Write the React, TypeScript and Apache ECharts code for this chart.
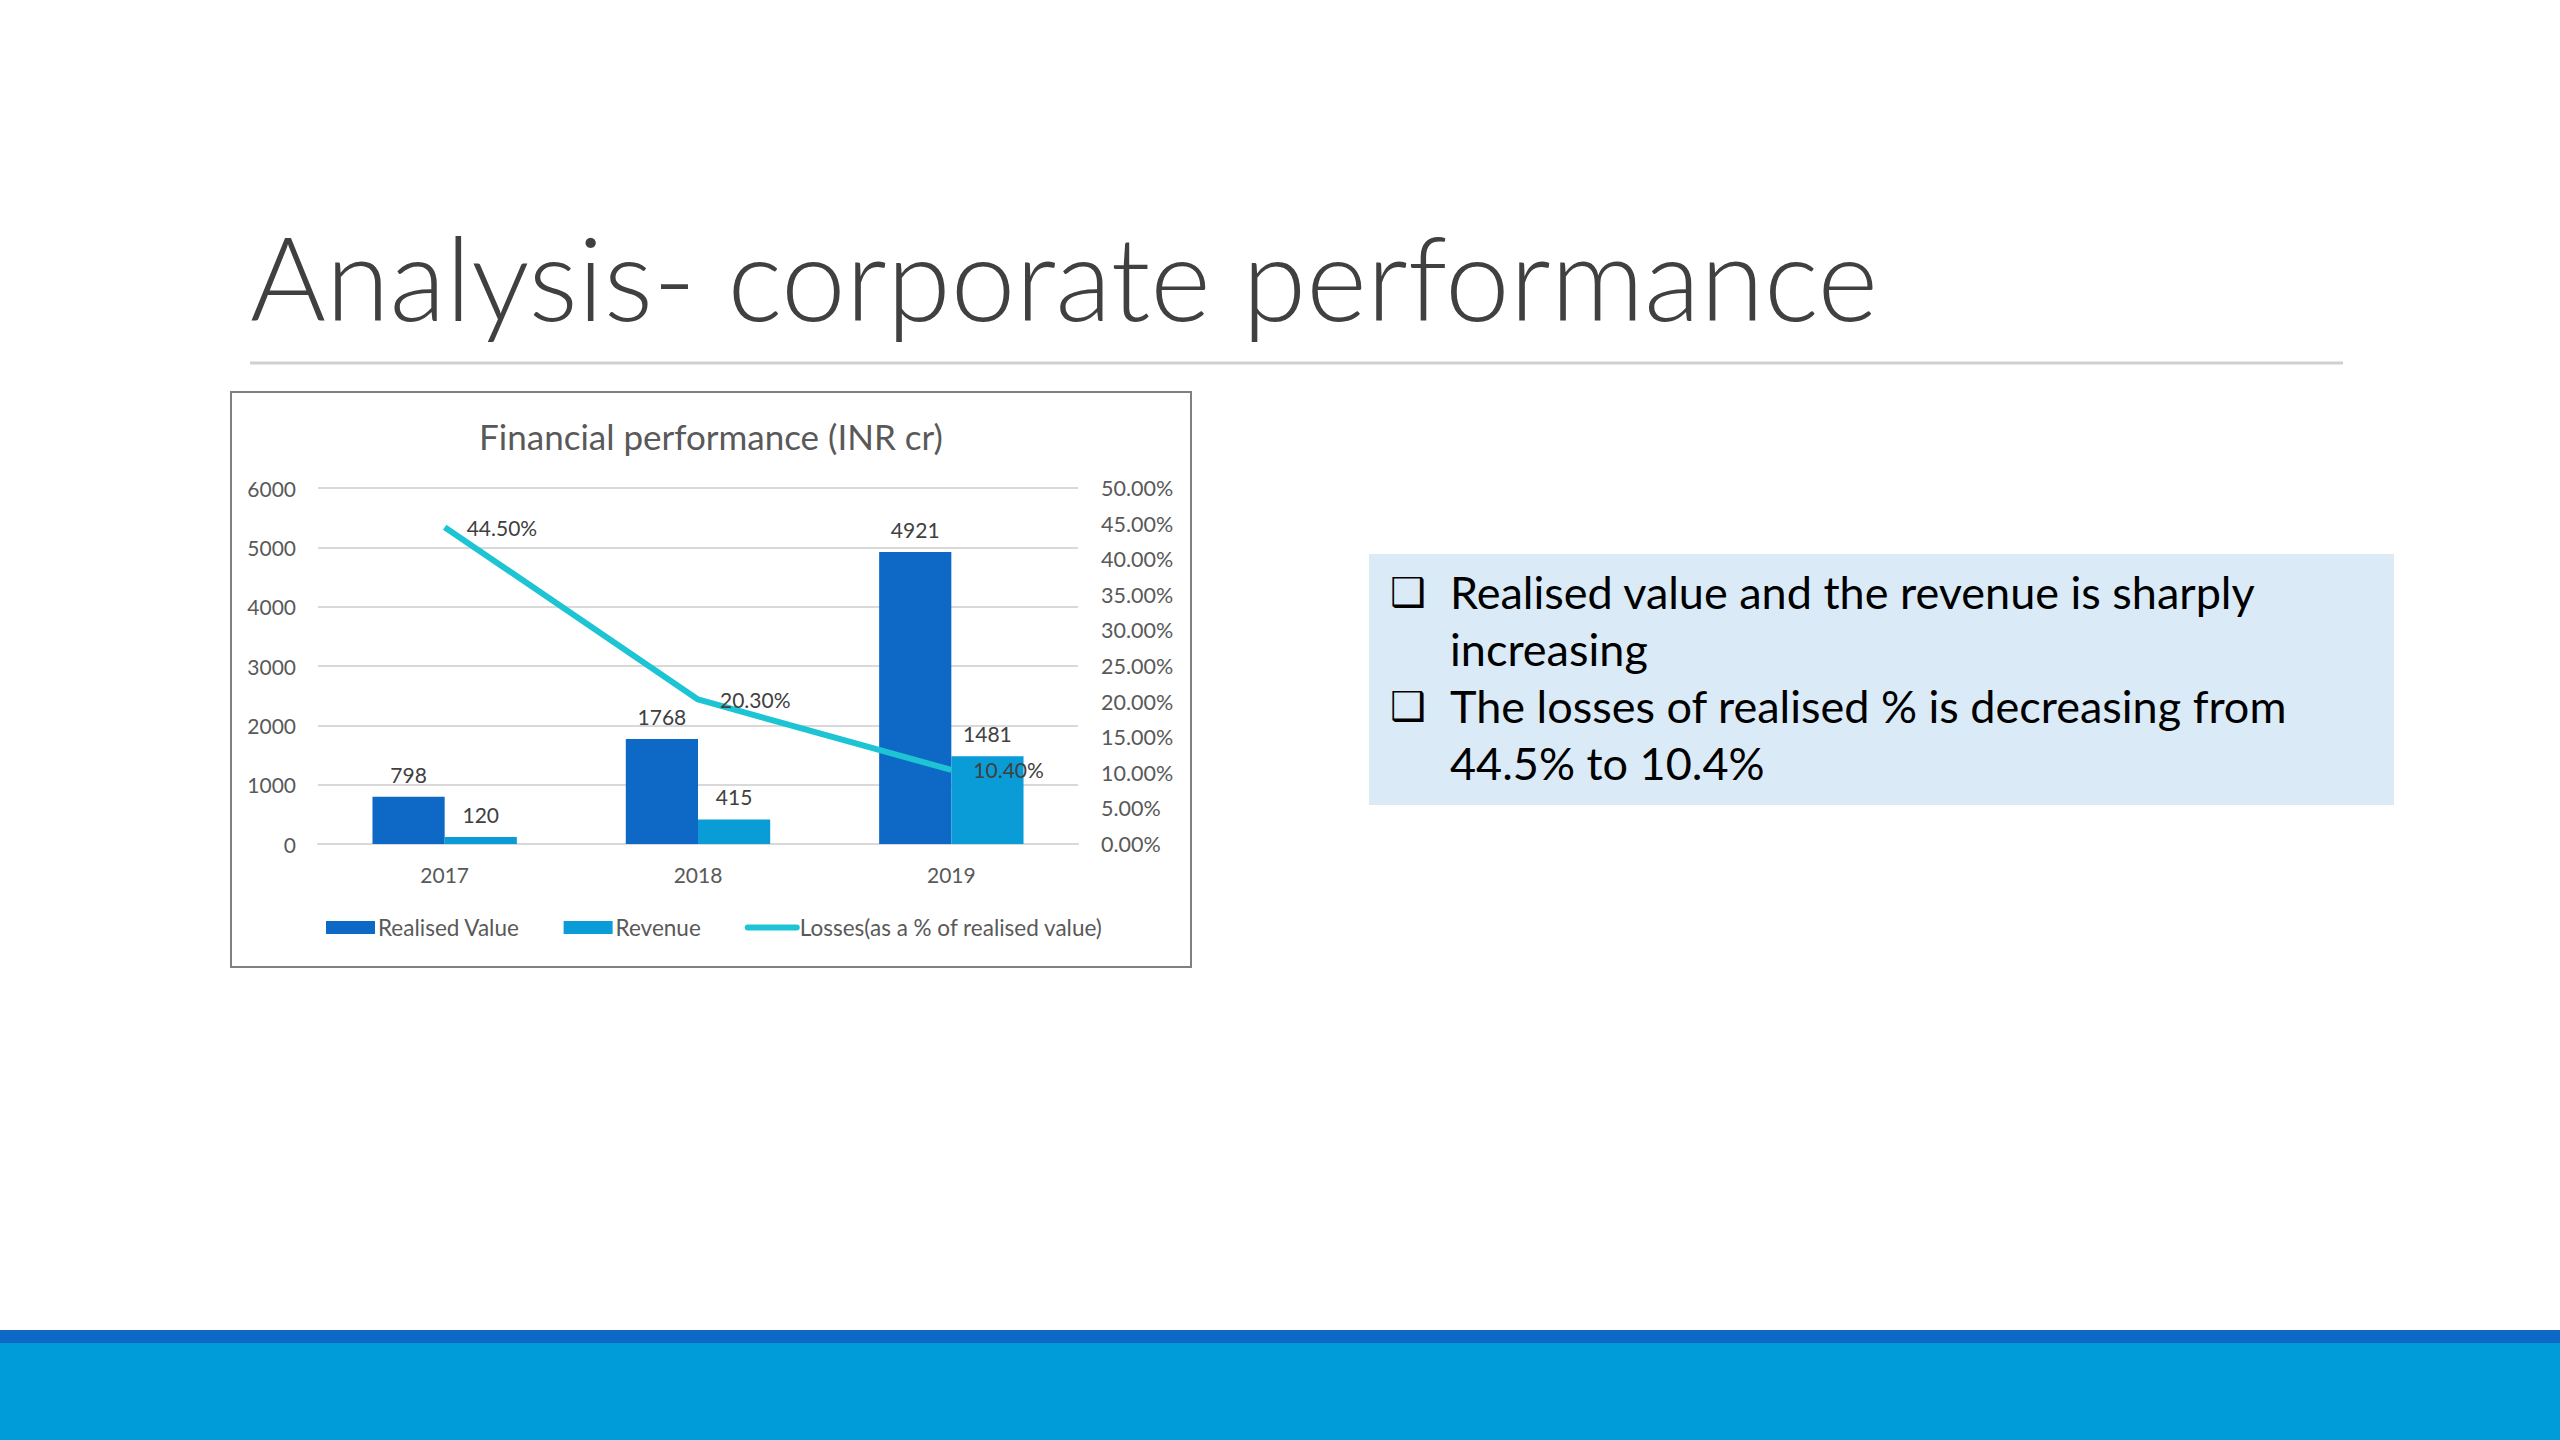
import React, { useEffect, useRef } from "react";
import * as echarts from "echarts";

const years = ["2017", "2018", "2019"];
const realisedValue = [798, 1768, 4921];
const revenue = [120, 415, 1481];
const lossesPct = [0.445, 0.203, 0.104];
const seriesNames = ["Realised Value", "Revenue", "Losses(as a % of realised value)"];
const slideTitle = "Analysis- corporate performance";
const chartTitle = "Financial performance (INR cr)";
const bulletLines = [
  ["Realised value and the revenue is sharply", "increasing"],
  ["The losses of realised % is decreasing from", "44.5% to 10.4%"],
];

const FONT = "Lato, 'Open Sans', sans-serif";

export default function App() {
  const ref = useRef<HTMLDivElement>(null);
  useEffect(() => {
    if (!ref.current) return;
    const chart = echarts.init(ref.current, undefined, { renderer: "svg" });

    const textEls: any[] = [];
    let lineIdx = 0;
    const lineY0 = 598;
    const lineH = 57;
    bulletLines.forEach((para) => {
      para.forEach((ln, j) => {
        const y = lineY0 + lineIdx * lineH;
        if (j === 0) {
          textEls.push({
            type: "text",
            left: 1390,
            top: y - 26,
            style: { text: "❑", font: "40px 'DejaVu Sans'", fill: "#000" },
          });
        }
        textEls.push({
          type: "text",
          left: 1450,
          top: y - 29,
          style: { text: ln, font: `45px ${FONT}`, fill: "#000" },
        });
        lineIdx++;
      });
    });

    chart.setOption({
      animation: false,
      backgroundColor: "#ffffff",
      textStyle: { fontFamily: FONT },
      title: {
        text: chartTitle,
        left: 706,
        top: 413,
        textAlign: "center",
        textStyle: { fontSize: 35, fontWeight: "normal", color: "#595959", fontFamily: FONT },
      },
      legend: {
        left: 321,
        top: 911,
        itemWidth: 49,
        itemHeight: 13,
        itemGap: 44,
        textStyle: { fontSize: 22.5, color: "#595959", fontFamily: FONT, padding: [0, 0, 0, -2] },
        data: [
          { name: seriesNames[0], icon: "rect" },
          { name: seriesNames[1], icon: "rect" },
          { name: seriesNames[2], itemStyle: { opacity: 0 }, lineStyle: { width: 6, cap: "round" } },
        ],
      },
      grid: { left: 318, right: 1482, top: 488, bottom: 596, containLabel: false },
      xAxis: {
        type: "category",
        data: years,
        axisLine: { show: true, lineStyle: { color: "#d9d9d9", width: 2 } },
        axisTick: { show: false },
        axisLabel: { fontSize: 21, color: "#595959", margin: 20 },
      },
      yAxis: [
        {
          type: "value",
          min: 0,
          max: 6000,
          interval: 1000,
          axisLine: { show: false },
          axisTick: { show: false },
          axisLabel: { fontSize: 21, color: "#595959", margin: 22, formatter: (v: number) => String(v) },
          splitLine: { lineStyle: { color: "#d9d9d9", width: 2 } },
        },
        {
          type: "value",
          min: 0,
          max: 0.5,
          interval: 0.05,
          position: "right",
          axisLine: { show: false },
          axisTick: { show: false },
          splitLine: { show: false },
          axisLabel: {
            fontSize: 21.5,
            color: "#595959",
            margin: 23,
            formatter: (v: number) => (v * 100).toFixed(2) + "%",
          },
        },
      ],
      series: [
        {
          name: seriesNames[0],
          type: "bar",
          data: realisedValue,
          barGap: "0%",
          barCategoryGap: "43%",
          itemStyle: { color: "#0E69C6" },
          label: { show: true, position: "top", distance: 12, fontSize: 21, color: "#404040" },
        },
        {
          name: seriesNames[1],
          type: "bar",
          data: revenue,
          itemStyle: { color: "#0A9CD7" },
          label: { show: true, position: "top", distance: 12, fontSize: 21, color: "#404040" },
        },
        {
          name: seriesNames[2],
          type: "line",
          yAxisIndex: 1,
          data: lossesPct,
          symbol: "circle",
          symbolSize: 0,
          showSymbol: true,
          lineStyle: { color: "#1CC4D4", width: 6 },
          itemStyle: { color: "#1CC4D4" },
          label: {
            show: true,
            position: "right",
            distance: 22,
            fontSize: 21,
            color: "#404040",
            formatter: (p: any) => (p.value * 100).toFixed(2) + "%",
          },
        },
      ],
      graphic: [
        {
          type: "text",
          left: 250,
          top: 218,
          style: { text: slideTitle, font: `300 116px ${FONT}`, fill: "#404040" },
        },
        {
          type: "line",
          shape: { x1: 250, y1: 363, x2: 2343, y2: 363 },
          style: { stroke: "#d0d0d0", lineWidth: 3 },
        },
        {
          type: "rect",
          shape: { x: 231, y: 392, width: 960, height: 575 },
          style: { fill: "none", stroke: "#808080", lineWidth: 2 },
        },
        {
          type: "rect",
          shape: { x: 1369, y: 554, width: 1025, height: 251 },
          style: { fill: "#DAEAF6" },
        },
        ...textEls,
        {
          type: "rect",
          shape: { x: 0, y: 1330, width: 2560, height: 13 },
          style: { fill: "#0E68C6" },
        },
        {
          type: "rect",
          shape: { x: 0, y: 1343, width: 2560, height: 97 },
          style: { fill: "#009CD9" },
        },
      ],
    });
    return () => chart.dispose();
  }, []);
  return (
    <div
      ref={ref}
      style={{ position: "absolute", left: 0, top: 0, width: 2560, height: 1440, background: "#fff" }}
    />
  );
}
